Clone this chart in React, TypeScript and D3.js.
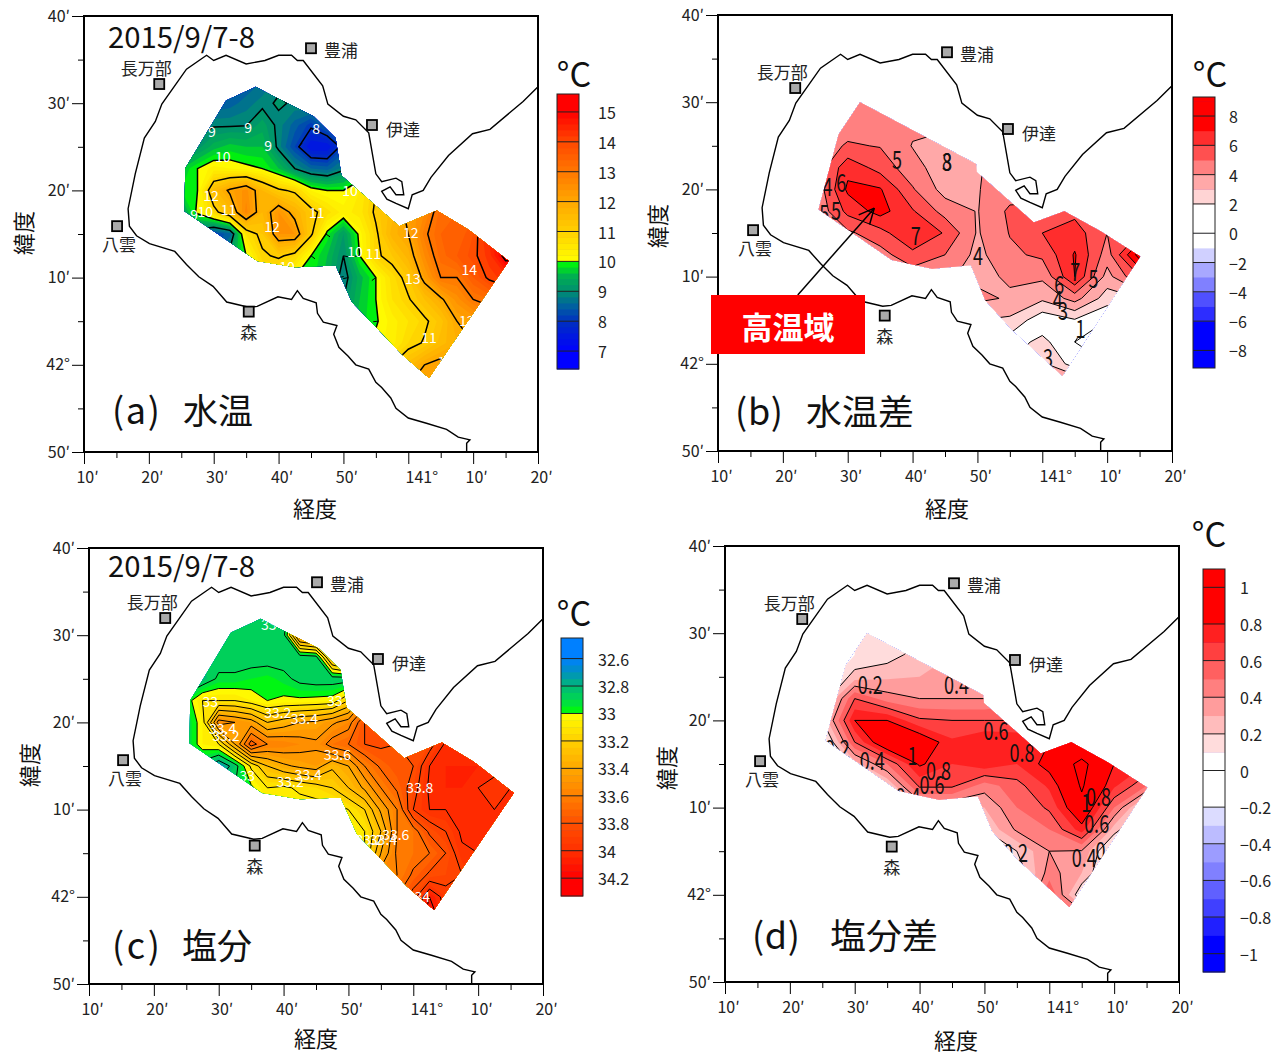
import React, { useEffect, useRef } from 'react'
import * as d3 from 'd3'

// lon = minutes past 140 deg, lat = minutes past 41 deg
const coast = [[69,50],[69,51],[69.5,51.4],[67.7,51.7],[65.9,52.6],[62.8,53.3],[60,53.9],[58.1,55],[57.3,56.2],[55.9,57.4],[55,58],[53.9,59.5],[51.9,60],[50.7,61],[49.3,62],[48.5,63.5],[49,64.5],[46.9,64.9],[46,65.9],[45.8,67.1],[43.8,67.6],[42.9,68.5],[42,67.5],[39.9,67.8],[36.7,66.7],[35.4,66.6],[32,67.2],[29.9,69],[27.7,70.1],[25.8,71.5],[24,73],[20.1,73.9],[18.1,74.8],[17,75.9],[16.8,77.9],[17.9,81.9],[19.3,86],[21,87.9],[22,89.9],[25.8,93.9],[28.9,95.5],[30,94.9],[31.9,95.5],[35,94.5],[37.9,94.9],[40,95.5],[42,95.5],[42.9,94.9],[43.8,94.9],[46.8,92],[47.6,89.9],[50,88.5],[51.9,88.1],[53.9,86.6],[55,81.9],[55.9,81],[58.1,81.4],[59,81],[59.3,79.5],[58.1,79.5],[57.2,80.4],[55.9,79.9],[56.7,79],[58.1,78.5],[60,77.9],[60.6,79.5],[62.3,80],[63.5,81.5],[66.2,84],[69.9,86.5],[72.6,87],[77.7,90.2],[80,91.9]]

const areaWide = [[36.5,91.9],[31.9,90.3],[25.6,82.5],[25.5,77.6],[36.7,71.9],[42.6,71.2],[48.8,71.4],[51.3,67.2],[55.3,64.1],[59,61.2],[63.2,58.5],[75.5,71.9],[69.3,75.5],[64.4,77.7],[58.6,75.9],[49.7,81.7],[48.8,86],[45.4,88.5],[38.2,91.2]]
const areaDiff = [[31.9,90],[28.6,86.3],[25.5,77.7],[36.8,71.9],[43,70.9],[49,71.3],[51.2,67.3],[55.2,64],[63.1,58.6],[75.1,72.3],[69,75.2],[63.4,77.5],[58.7,76.2],[49.9,82],[49.8,82.9]]

const gridLats = [92.5,90,87.5,85,82.5,80,77.5,75,72.5,70,67.5,65,62.5,60,57.5]
const fineLons = d3.range(25, 75.1, 2.5)
const coarseLons = d3.range(25, 75.1, 5)

const tempGrid = [
  [8.5,8.4,8.3,8.3,8.4,8.6,8.9,9,9,9,9,9.5,10,10.5,11,11.5,12,12.5,13,13.5,14],
  [8.5,8.5,8.4,8.5,8.7,8.9,9.05,8.95,9.1,9.1,9.2,9.5,10,10.5,11,11.5,12,12.5,13,13.5,14],
  [9,8.9,8.95,8.95,8.98,9.3,8.9,8.5,8.1,8.6,9.2,9.5,10,10.5,11,11.5,12,12.5,13,13.5,14],
  [9.2,9.1,9.5,9.7,9.6,9.6,8.9,8.2,7.4,7.4,8.2,9.2,10,10.5,11,11.5,12,12.5,13,13.5,14],
  [9.6,10,10.3,10.2,10.1,10,9.6,9,8.6,8.5,8.9,9.5,10,10.5,11,11.5,12,12.5,13,13.5,14],
  [9.8,10,11.5,12.1,12.5,11.6,11.1,10.9,10.2,10,10,10.4,11,11.3,11.6,12,12.5,13,13.5,13.7,14],
  [9.2,10.1,10.8,11.5,12.7,11.6,12.4,11.8,11.2,10.7,10.3,10.5,11.1,11.5,12.2,12.6,13.3,13.4,13.5,13.7,14],
  [8.9,8.7,8.2,8.5,10.6,11.2,12.4,12.4,11.1,9.9,9.2,10.1,10.9,11.7,12,12.9,13.4,13.4,13.8,14.5,15],
  [8.5,8.5,8.5,9.3,10,10.9,11.1,10.8,10,9.6,9,10,10.9,11.2,11.7,12.6,13.3,13.6,13.9,14.3,15.2],
  [8.5,9,9,9.5,10,10.5,10.3,10,9.9,9.5,8.8,9.5,10,10.7,11.2,12.2,13,13,13.6,14.1,14.3],
  [9,9,9,9.5,10,10,10,10,9.9,9.5,9,9.6,10,10.6,10.95,11.4,11.9,12.5,13,13.2,13.5],
  [9,9,9,9.5,10,10,10,10,9.9,9.5,9.2,9.7,9.95,10.3,10.6,10.9,11.3,12,12.2,12.5,12.5],
  [9,9,9,9.5,10,10,10,10,10,10,10,10,10.1,10.3,10.8,11.05,11.5,11.8,12,12,12],
  [9,9,9,9.5,10,10,10,10,10,10,10,10.3,10.6,11,11.5,12,12.2,12,12,12,12],
  [9,9,9,9.5,10,10,10,10,10,10,10,10.5,11,11.5,12,12.5,12,12,12,12,12],
]
const tempDiffGrid = [
  [4,4,4.5,4.5,4.5,4.5,4.5,5,5,5,6],
  [4,4.3,4.5,4.5,4.5,4.5,4.5,5,5,5,6],
  [4.5,4.6,4.4,4.2,4.2,4.1,4.5,5,5,5,6],
  [4.5,5.1,4.95,3.95,3.6,3.8,4.5,5,5,5,6],
  [4.2,6.7,5.6,4.4,3.4,3.9,4.5,4.5,5,5,6],
  [4.2,7.2,7.1,5.1,3.6,3.95,4.5,4.5,5,5,6],
  [4.1,6.3,7.4,6.1,4.6,3.95,5.2,5.3,5.7,5.5,6],
  [3.4,4.8,5.6,7,5.9,3.9,5.05,6,6.5,5,6],
  [3,3,4.6,5.7,5,3.7,4.8,5.2,7.1,4.5,8.5],
  [3,3,4,4.4,4.1,3.8,4.1,4.2,7,3.6,6],
  [3,3,4,4,4,4.2,3.9,3.2,4.4,2.5,3],
  [3,3,3,3,3,3,2.8,1.3,1.9,1,2],
  [3,3,3,3,3,2,1.5,2.3,1,0.8,1],
  [3,3,3,3,3,2,2,3.2,1.5,1,1],
  [3,3,3,3,3,3,3,4,4.5,1,1],
]
const salGrid = [
  [32.85,32.85,32.85,32.85,32.85,32.85,32.85,33.2,33.6,33.6,33.6,33.6,33.6,33.6,33.6,33.6,33.6,33.6,33.6,33.6,33.6],
  [32.85,32.85,32.85,32.85,32.85,32.85,32.86,33.5,33.6,33.6,33.6,33.6,33.6,33.6,33.6,33.6,33.6,33.6,33.6,33.6,33.6],
  [32.85,32.85,32.85,32.85,32.85,32.85,32.85,32.85,32.87,33.4,33.6,33.6,33.6,33.6,33.6,33.6,33.6,33.6,33.6,33.6,33.6],
  [32.8,32.82,32.92,32.92,32.95,32.97,32.93,32.87,32.85,32.85,32.85,33.2,33.6,33.6,33.6,33.6,33.6,33.6,33.6,33.6,33.6],
  [32.95,33.1,33.1,33.1,33.05,33,33.02,33.02,33.03,33.04,33.2,33.5,33.7,33.8,33.8,33.8,33.8,33.8,33.8,33.8,33.8],
  [32.9,33.05,33.55,33.5,33.45,33.3,33.35,33.4,33.42,33.48,33.55,33.8,33.8,33.8,33.8,33.85,33.9,33.9,33.9,33.95,34],
  [32.9,33.05,33.1,33.4,33.75,33.6,33.58,33.55,33.52,33.65,33.7,33.8,33.82,33.8,33.8,33.85,34.02,34,33.95,33.98,34],
  [32.85,32.85,32.7,32.85,33.12,33.3,33.38,33.42,33.45,33.32,33.4,33.6,33.72,33.78,33.8,34,34.05,34.05,34.05,34.02,34],
  [32.85,32.85,32.85,32.9,32.98,33.1,33.08,33.12,33.15,33.2,33.3,33.42,33.6,33.72,33.85,34.02,34.05,34.05,34,33.98,34],
  [33,33,33,33,33,33.05,33.05,33.05,33.05,33.05,33.1,33.2,33.42,33.6,33.9,34,34,34.02,34,34,34],
  [33,33,33,33,33,33,33,33,33,33,33.05,33.1,33.3,33.6,33.65,33.82,33.9,34.02,34,34,34],
  [33,33,33,33,33,33,33,33,33,33,33,33.1,33.4,33.62,33.65,33.7,33.8,33.98,34,34,34],
  [33,33,33,33,33,33,33,33,33,33,33,33.2,33.55,33.6,33.72,33.82,33.85,33.9,34,34,34],
  [33,33,33,33,33,33,33,33,33,33,33,33.4,33.6,33.7,33.85,34.1,33.95,33.9,34,34,34],
  [33,33,33,33,33,33,33,33,33,33,33,33.4,33.6,33.7,33.9,34.2,34,34,34,34,34],
]
const salDiffGrid = [
  [0,0.1,0.1,0.1,0.1,0.2,0.3,0.4,0.6,0.8,0.8],
  [0,0.1,0.1,0.15,0.2,0.2,0.3,0.4,0.6,0.8,0.8],
  [0,0.1,0.15,0.25,0.3,0.3,0.3,0.4,0.6,0.8,0.8],
  [0,0.25,0.28,0.3,0.3,0.3,0.35,0.5,0.7,0.8,0.8],
  [0.1,0.6,0.45,0.4,0.4,0.4,0.45,0.6,0.8,0.8,0.8],
  [0.2,0.8,0.8,0.62,0.6,0.6,0.6,0.65,0.8,0.8,0.8],
  [0,0.6,0.95,0.92,0.72,0.8,0.78,0.8,0.83,0.9,0.8],
  [-0.1,0.25,0.5,0.82,0.7,0.77,0.7,0.85,1.05,0.8,0.7],
  [-0.1,0,0.2,0.62,0.62,0.45,0.56,0.72,1.02,0.72,0.5],
  [-0.1,0,0,0.3,0.3,0.3,0.5,0.62,0.95,0.5,0.1],
  [-0.1,0,0.1,0.2,0.1,0.2,0.42,0.5,0.75,0.25,0],
  [-0.1,0,0.1,0.1,0.1,0.1,0.2,0.4,0.39,0.02,0],
  [-0.1,0,0.1,0.1,0.1,0.1,0.1,0.45,0.3,0,0],
  [-0.1,0,0.1,0.1,0.1,0.1,0.1,0.6,0.1,0,0],
  [-0.1,0,0.1,0.1,0.1,0.1,0.1,0.8,0.5,0,0],
]

const tempStops = [7,8,8.5,9,9.5,9.99,10,11,12,13,14,15]
const tempColors = ['#0000ff','#0030c0','#0060a0','#009070','#00b050','#00ff00','#ffff00','#ffd000','#ffa800','#ff7800','#ff4800','#ff0000']
const salStops = [32.6,32.7,32.8,32.9,32.999,33,33.2,33.4,33.6,33.8,34,34.2]
const salColors = ['#0080ff','#0090c0','#00b878','#00d850','#00ff00','#ffff00','#ffd000','#ffa800','#ff8000','#ff5000','#ff3000','#ff0000']
const tempDiffColors = ['#0000ff','#0000ff','#0000ff','#2d2dff','#5050ff','#8080ff','#a8a8ff','#d0d0ff','#ffffff','#ffffff','#ffffff','#ffd4d4','#ffa8a8','#ff8080','#ff5050','#ff2d2d','#ff0000','#ff0000']
const salDiffColors = ['#0000ff','#0000ff','#2020ff','#4040ff','#6060ff','#8080ff','#9c9cff','#bcbcff','#dcdcff','#ffffff','#ffffff','#ffffff','#ffdcdc','#ffbcbc','#ff9c9c','#ff7f7f','#ff6060','#ff4040','#ff2020','#ff0000','#ff0000','#ff0000']

const tempLevels = d3.range(32, 79).map(i => i / 5)
const salLevels = d3.range(649, 687).map(i => i / 20)
const tempDiffLevels = d3.range(-9, 10)
const salDiffLevels = d3.range(-11, 12).map(i => i / 10)

const tempLines = d3.range(7, 16)
const salLines = d3.range(327, 343).map(i => i / 10)
const tempDiffLines = d3.range(1, 9)
const salDiffLines = d3.range(0, 6).map(i => i / 5)

const tempTicks = [7,8,9,10,11,12,13,14,15]
const salTicks = [32.6,32.8,33,33.2,33.4,33.6,33.8,34,34.2]
const tempDiffTicks = [-8,-6,-4,-2,0,2,4,6,8]
const salDiffTicks = [-1,-0.8,-0.6,-0.4,-0.2,0,0.2,0.4,0.6,0.8,1]

const tempLabels = [['9',29.7,86.8],['9',35.3,87.3],['9',38.4,85.2],['8',45.8,87.1],['10',31.4,83.9],['10',51,80],['12',29.6,79.5],['12',39,75.9],['10',28.7,77.6],['9',27,77.3],['11',32.3,77.9],['11',45.9,77.5],['10',51.8,73.1],['11',54.6,72.8],['12',60.4,75.2],['13',60.7,69.9],['14',69.4,71],['11',63.2,63.2],['12',69,65.1],['10',41.3,71.3],['1',65.1,60.4]]
const tempDiffLabels = [['5',37.6,83.6],['3',45.3,83.4],['8',45.3,83.4],['4',26.9,80.5],['6',29,81],['5',28.2,77.7],['5',26.4,77.4],['7',40.5,74.9],['4',50.1,72.6],['7',65.1,70.8],['6',62.6,69.3],['5',67.9,70],['4',62.4,67.6],['3',63.2,66.3],['1',65.9,64.2],['3',60.9,60.9]]
const salLabels = [['33',37.7,91.3],['33',28.7,82.5],['33',47.9,82.6],['33.2',39.1,81.2],['33.4',43.2,80.5],['33.4',30.6,79.4],['33.2',31.1,78.6],['33.6',48.3,76.4],['33.4',43.8,74.1],['33.2',41,73.3],['33',34.4,74],['33.8',61,72.6],['33.2',53.2,66.6],['33.4',55.4,66.6],['33.6',57.3,67.2],['34',61.4,60.1]]
const salDiffLabels = [['0.2',32.4,84.3],['0.4',45.7,84.3],['0.6',51.8,79],['0.8',55.8,76.5],['1',38.9,76.2],['0.4',32.7,75.6],['0.8',42.9,74.4],['0.6',41.9,72.8],['0.8',67.6,71.5],['1',65.7,70.8],['0.6',67.3,68.3],['0.4',65.4,64.5],['0',67.9,65.3],['0.2',54.8,65],['0.2',27.3,77],['0.4',38.2,71.4]]

const stations = [['長万部',21.6,92.2,-13,-16],['豊浦',45,96.3,30,2],['伊達',54.4,87.5,31,4],['八雲',15.1,75.9,2,18],['森',35.4,66.1,0,21]]

const lonTicks = [10,20,30,40,50,60,70,80]
const lonTickNames = ['10′','20′','30′','40′','50′','141°','10′','20′']
const latTicks = [100,90,80,70,60,50]
const latTickNames = ['40′','30′','20′','10′','42°','50′']

const FONT = '"Noto Sans CJK JP", "Noto Sans", sans-serif'

const panels = [
  { id: 'a', left: 84, top: 16, nudge: [0, 0], lons: fineLons, grid: tempGrid, levels: tempLevels, lines: tempLines, stops: tempStops, colors: tempColors, area: areaWide,
    bar: { x: 557, top: 94, bottom: 369, hi: 15.6, lo: 6.4, ticks: tempTicks, labelX: 598, flip: false },
    unit: [574, 72], labels: tempLabels, labelColor: '#fff', labelSize: 14, squeeze: false, lineWidth: 1.5, hachure: true,
    date: [108, 48], title: ['(a)', '水温', 112, 183, 424, 70], xt: [315, 507], yt: [22, 233] },
  { id: 'b', left: 718, top: 15, nudge: [2, 5], lons: coarseLons, grid: tempDiffGrid, levels: tempDiffLevels, lines: tempDiffLines, colors: tempDiffColors, area: areaDiff,
    bar: { x: 1193, top: 97, bottom: 368, hi: 9.3, lo: -9.2, ticks: tempDiffTicks, labelX: 1229, flip: false },
    unit: [1210, 72], labels: tempDiffLabels, labelColor: '#111', labelSize: 25, squeeze: true, lineWidth: 1, hachure: true,
    title: ['(b)', '水温差', 735, 806, 425, 108], xt: [947, 507], yt: [656, 226] },
  { id: 'c', left: 89, top: 548, nudge: [1, 2], lons: fineLons, grid: salGrid, levels: salLevels, lines: salLines, stops: salStops, colors: salColors, area: areaWide,
    bar: { x: 561, top: 638, bottom: 896, hi: 34.33, lo: 32.45, ticks: salTicks, labelX: 598, flip: true },
    unit: [574, 611], labels: salLabels, labelColor: '#fff', labelSize: 14, squeeze: false, lineWidth: 1, hachure: false,
    date: [108, 577], title: ['(c)', '塩分', 112, 182, 959, 70], xt: [316, 1037], yt: [28, 765] },
  { id: 'd', left: 725, top: 546, nudge: [2, 5], lons: coarseLons, grid: salDiffGrid, levels: salDiffLevels, lines: salDiffLines, colors: salDiffColors, area: areaDiff,
    bar: { x: 1203, top: 569, bottom: 972, hi: 1.1, lo: -1.1, ticks: salDiffTicks, labelX: 1240, flip: false },
    unit: [1209, 532], labels: salDiffLabels, labelColor: '#111', labelSize: 25, squeeze: true, lineWidth: 1, hachure: false,
    title: ['(d)', '塩分差', 752, 830, 949, 108], xt: [956, 1039], yt: [665, 768] },
]

const fmt = (v: number) => String(v).replace('-', '−')
const squeezedWidth = (s: string) => s.split('').reduce((w, c) => w + (c === '.' ? 5 : 10), 0)

export default function App() {
  const ref = useRef<SVGSVGElement>(null)

  useEffect(() => {
    const svg = d3.select(ref.current)
    svg.selectAll('*').remove()
    svg.attr('font-family', FONT)

    panels.forEach(p => {
      const x = d3.scaleLinear().domain([10, 80]).range([p.left, p.left + 454])
      const y = d3.scaleLinear().domain([100, 50]).range([p.top, p.top + 436])
      const g = svg.append('g')

      // band colour for the interval that starts at level i
      const bandColor = (i: number) => {
        if (!p.stops) return p.colors[Math.min(i, p.colors.length - 1)]
        const next = p.levels[i + 1] ?? p.levels[i]
        const ramp = d3.scaleLinear<string>().domain(p.stops).range(p.colors).clamp(true)
        return ramp((p.levels[i] + next) / 2)
      }

      // pad one cell all round so bands run past the survey area
      const rows = p.grid.map(r => [r[0], ...r, r[r.length - 1]])
      const padded = [rows[0], ...rows, rows[rows.length - 1]]
      const nx = padded[0].length, ny = padded.length
      const flat = padded.flat()
      const toX = (cx: number) => x(p.lons[0] + (cx - 1.5) * (p.lons[1] - p.lons[0]))
      const toY = (cy: number) => y(gridLats[0] + (cy - 1.5) * (gridLats[1] - gridLats[0]))
      const project = d3.geoTransform({
        point(cx: number, cy: number) {
          this.stream.point(toX(cx), toY(cy))
        },
      })
      const path = d3.geoPath(project)
      const contours = d3.contours().size([nx, ny]).smooth(true)

      const clipId = 'area-' + p.id
      const areaPoints = p.area.map(d => [x(d[0]), y(d[1])].join(',')).join(' ')
      svg.append('clipPath').attr('id', clipId).append('polygon').attr('points', areaPoints)

      const field = g.append('g').attr('clip-path', `url(#${clipId})`)
      field.append('polygon').attr('points', areaPoints).attr('fill', bandColor(0))
      p.levels.forEach((lv, i) => {
        field.append('path').attr('d', path(contours.contour(flat, lv))).attr('fill', bandColor(i))
      })
      p.lines.forEach(lv => {
        const c = contours.contour(flat, lv)
        field.append('path').attr('d', path(c))
          .attr('fill', 'none').attr('stroke', '#000').attr('stroke-width', p.lineWidth)
        if (!p.hachure) return
        // closed lows get short ticks pointing inward, holes of the >= level polygons
        c.coordinates.forEach(poly => poly.slice(1).forEach(hole => {
          const pts = hole.map(q => [toX(q[0]), toY(q[1])])
          const mid = [d3.mean(pts, q => q[0]), d3.mean(pts, q => q[1])]
          let run = 0
          for (let k = 1; k < pts.length; k++) {
            const dx = pts[k][0] - pts[k - 1][0], dy = pts[k][1] - pts[k - 1][1]
            const len = Math.hypot(dx, dy)
            run += len
            if (run < 22 || len === 0) continue
            run = 0
            let nxv = -dy / len, nyv = dx / len
            if (nxv * (mid[0] - pts[k][0]) + nyv * (mid[1] - pts[k][1]) < 0) { nxv = -nxv; nyv = -nyv }
            field.append('line').attr('x1', pts[k][0]).attr('y1', pts[k][1])
              .attr('x2', pts[k][0] + nxv * 5).attr('y2', pts[k][1] + nyv * 5)
              .attr('stroke', '#000').attr('stroke-width', 1)
          }
        }))
      })
      const labs = field.selectAll('text.lab').data(p.labels).enter().append('text')
        .attr('x', d => x(d[1])).attr('y', d => y(d[2]))
        .attr('text-anchor', 'middle').attr('dominant-baseline', 'central')
        .attr('fill', p.labelColor).attr('font-size', p.labelSize)
        .text(d => d[0])
      if (p.squeeze) {
        labs.attr('textLength', d => squeezedWidth(d[0])).attr('lengthAdjust', 'spacingAndGlyphs')
      }

      // coastline
      const line = d3.line().x(d => x(d[0])).y(d => y(d[1]))
      g.append('path').attr('d', line(coast)).attr('fill', 'none').attr('stroke', '#000').attr('stroke-width', 1.4)

      // frame and axes
      g.append('rect').attr('x', p.left).attr('y', p.top).attr('width', 454).attr('height', 436)
        .attr('fill', 'none').attr('stroke', '#000').attr('stroke-width', 2)

      const xAxis = d3.axisBottom(x).tickValues(lonTicks).tickSize(12).tickPadding(8)
        .tickFormat((_, i) => lonTickNames[i])
      const xg = g.append('g').attr('transform', `translate(0,${p.top + 436})`).call(xAxis)
      xg.selectAll('text').attr('dx', (_, i) => (i === 5 ? 13 : 3))
      const xMinor = d3.axisBottom(x).tickValues(lonTicks.slice(0, -1).map(v => v + 5)).tickSize(6).tickFormat(() => '')
      const xmg = g.append('g').attr('transform', `translate(0,${p.top + 436})`).call(xMinor)

      const yAxis = d3.axisLeft(y).tickValues(latTicks).tickSize(12).tickPadding(2)
        .tickFormat((_, i) => latTickNames[i])
      const yg = g.append('g').attr('transform', `translate(${p.left},0)`).call(yAxis)
      const yMinor = d3.axisLeft(y).tickValues(latTicks.slice(1).map(v => v + 5)).tickSize(6).tickFormat(() => '')
      const ymg = g.append('g').attr('transform', `translate(${p.left},0)`).call(yMinor)
      ;[xg, xmg, yg, ymg].forEach(a => {
        a.select('.domain').remove()
        a.attr('font-family', FONT).attr('font-size', 16)
        a.selectAll('line').attr('stroke-width', 1)
        a.selectAll('text').attr('fill', '#222')
      })

      // stations
      stations.forEach(s => {
        const sx = x(s[1] as number) + p.nudge[0], sy = y(s[2] as number) + p.nudge[1]
        g.append('rect').attr('x', sx - 5).attr('y', sy - 5).attr('width', 10).attr('height', 10)
          .attr('fill', '#aaa').attr('stroke', '#000').attr('stroke-width', 1.8)
        g.append('text').attr('x', sx + (s[3] as number)).attr('y', sy + (s[4] as number) - 1)
          .attr('text-anchor', 'middle').attr('dominant-baseline', 'central').attr('font-size', 17).attr('fill', '#222')
          .text(s[0] as string)
      })

      // colour bar
      const b = p.bar
      const by = d3.scaleLinear().domain(b.flip ? [b.lo, b.hi] : [b.hi, b.lo]).range([b.top, b.bottom])
      g.append('rect').attr('x', b.x).attr('width', 22).attr('y', b.top).attr('height', b.bottom - b.top).attr('fill', bandColor(0))
      p.levels.forEach((lv, i) => {
        const lo = Math.max(lv, b.lo)
        const hi = Math.min(p.levels[i + 1] ?? b.hi, b.hi)
        if (hi <= lo) return
        g.append('rect').attr('x', b.x).attr('width', 22)
          .attr('y', Math.min(by(lo), by(hi))).attr('height', Math.abs(by(hi) - by(lo)) + 0.5)
          .attr('fill', bandColor(i))
      })
      b.ticks.forEach(v => {
        g.append('line').attr('x1', b.x).attr('x2', b.x + 22).attr('y1', by(v)).attr('y2', by(v))
          .attr('stroke', '#222').attr('stroke-width', 1)
        g.append('text').attr('x', b.labelX).attr('y', by(v)).attr('dominant-baseline', 'central')
          .attr('font-size', 16).attr('fill', '#222').text(fmt(v))
      })
      g.append('rect').attr('x', b.x).attr('y', b.top).attr('width', 22).attr('height', b.bottom - b.top)
        .attr('fill', 'none').attr('stroke', '#222').attr('stroke-width', 1)

      g.append('text').attr('x', p.unit[0]).attr('y', p.unit[1]).attr('text-anchor', 'middle')
        .attr('dominant-baseline', 'central').attr('font-size', 34).attr('fill', '#111').text('°C')

      // titles
      if (p.date) {
        g.append('text').attr('x', p.date[0]).attr('y', p.date[1]).attr('font-size', 29).attr('fill', '#111')
          .attr('textLength', 147).attr('lengthAdjust', 'spacingAndGlyphs').text('2015/9/7-8')
      }
      const t = p.title
      g.append('text').attr('x', t[2]).attr('y', t[4]).attr('font-size', 36).attr('fill', '#111')
        .attr('textLength', 48).attr('lengthAdjust', 'spacing').text(t[0])
      g.append('text').attr('x', t[3]).attr('y', t[4]).attr('font-size', 35).attr('fill', '#111')
        .attr('textLength', t[5]).attr('lengthAdjust', 'spacingAndGlyphs').text(t[1])
      g.append('text').attr('x', p.xt[0]).attr('y', p.xt[1]).attr('text-anchor', 'middle')
        .attr('dominant-baseline', 'central').attr('font-size', 22).attr('fill', '#111').text('経度')
      g.append('text').attr('transform', `translate(${p.yt[0]},${p.yt[1]}) rotate(-90)`).attr('text-anchor', 'middle')
        .attr('dominant-baseline', 'central').attr('font-size', 22).attr('fill', '#111').text('緯度')

      // high temperature callout in panel b
      if (p.id === 'b') {
        const head = [x(34.1), y(77.85)], tail = [x(22.3), y(67.9)]
        const ang = Math.atan2(head[1] - tail[1], head[0] - tail[0])
        g.append('line').attr('x1', tail[0]).attr('y1', tail[1]).attr('x2', head[0]).attr('y2', head[1])
          .attr('stroke', '#000').attr('stroke-width', 1.5)
        ;[-2.7, 2.7].forEach(da => {
          g.append('line').attr('x1', head[0]).attr('y1', head[1])
            .attr('x2', head[0] + 17 * Math.cos(ang + da)).attr('y2', head[1] + 17 * Math.sin(ang + da))
            .attr('stroke', '#000').attr('stroke-width', 1.5)
        })
        g.append('rect').attr('x', 711).attr('y', 295).attr('width', 154).attr('height', 59).attr('fill', '#ff0000')
        g.append('text').attr('x', 788).attr('y', 325).attr('text-anchor', 'middle').attr('dominant-baseline', 'central')
          .attr('font-size', 31).attr('font-weight', 700).attr('fill', '#fff').text('高温域')
      }
    })
  }, [])

  return <svg ref={ref} width={1276} height={1055} style={{ position: 'absolute', left: 0, top: 0 }} />
}
